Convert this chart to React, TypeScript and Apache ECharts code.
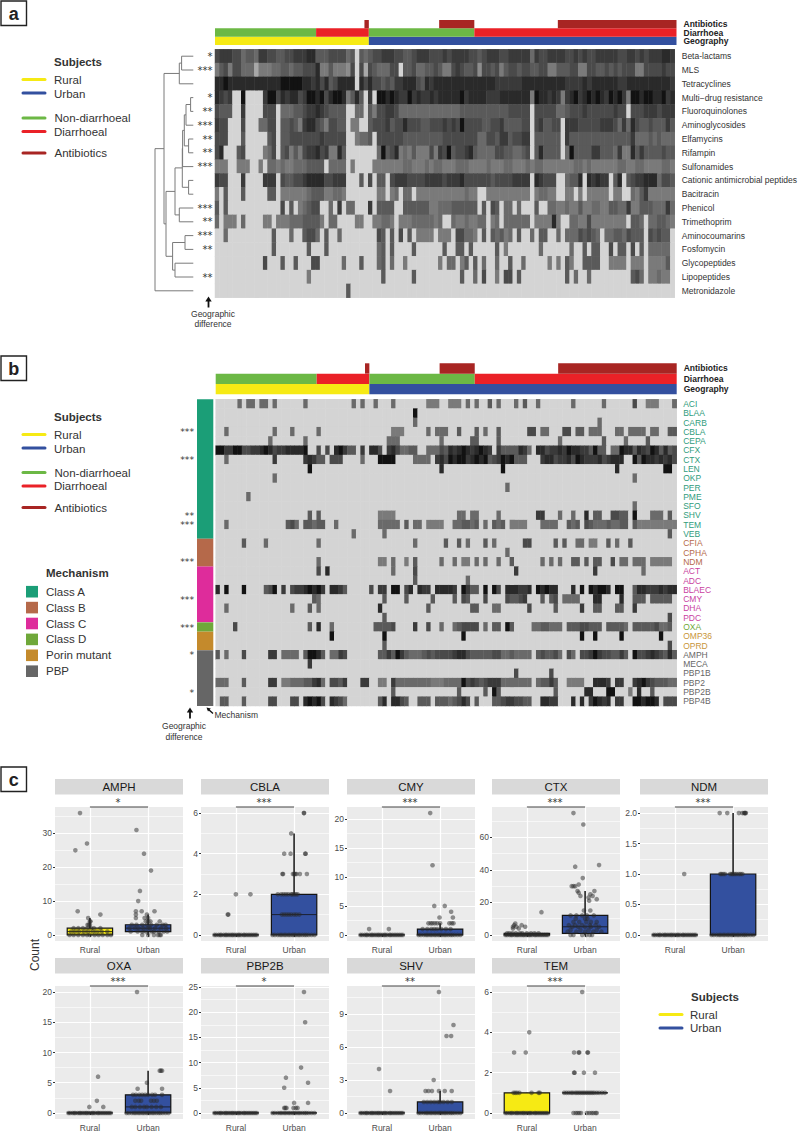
import React, { useEffect, useRef } from "react";
import * as echarts from "echarts";

const FONT = "'Liberation Sans', Arial, sans-serif";
const STAR_FONT = "'DejaVu Sans', sans-serif";
const COLS = 105;
const GREY_SCALE = ["#d4d4d4", "#a8a8a8", "#8c8c8c", "#7a7a7a", "#6a6a6a", "#5a5a5a", "#4a4a4a", "#3a3a3a", "#2a2a2a", "#121212"];
const C_YELLOW = "#f6ea14";
const C_BLUE = "#33509f";
const C_GREEN = "#6cb845";
const C_RED = "#ea2127";
const C_BROWN = "#a82523";

const LABELS_A = ["Beta-lactams", "MLS", "Tetracyclines", "Multi\u2212drug resistance", "Fluoroquinolones", "Aminoglycosides", "Elfamycins", "Rifampin", "Sulfonamides", "Cationic antimicrobial peptides", "Bacitracin", "Phenicol", "Trimethoprim", "Aminocoumarins", "Fosfomycin", "Glycopeptides", "Lipopeptides", "Metronidazole"];
const STARS_A = ["*", "***", "", "*", "**", "***", "**", "**", "***", "", "", "***", "**", "***", "**", "", "**", ""];

const ROWS_A = [
  "6777664554 7766556677 7885556666 4505456677 7665567776 6676777766 5677766777 7747667777 6676766777 7766776767 77887",
  "3563664441 3334455455 6668335333 2606165444 6605564455 6533676556 2665635665 6655663355 5663366556 5656663366 66766",
  "8898888888 8888899999 8878685688 8808686656 5778886587 8888888888 8888777777 8888888888 7777878888 8877888888 88887",
  "8767009000 0799687886 7998968998 3585070998 9877978778 7888889788 8877788888 8839887873 7897898987 9897399899 88978",
  "6555007000 0666044455 6778765555 0044053667 7644444444 4444445555 5555555666 6606666644 5666766666 6766066677 76777",
  "7660006000 4466055653 7886536655 0330056667 5668666556 6676769666 6556675555 6606755660 7776666677 7647486556 55575",
  "6660005000 0056055666 6666766666 0034450666 6665555555 5566666666 4466577566 7705555550 7555555555 5555574445 45444",
  "6800056000 0346056353 6778673385 0000000495 6834353336 3769566785 4444665544 5605855550 4955557755 5473385755 55655",
  "3330033300 3044343344 4555504444 0300003333 3334433343 4433344433 3343334433 3434433333 3344343333 3344334433 33443",
  "7660007000 0777065566 7888866777 0005060550 6777666677 7767778666 6665666677 7708766600 4558087877 0580567788 84665",
  "3050005000 0055033333 3455533443 0000000330 3404403333 3333333433 0033333333 3303443300 3303033333 0330043573 33333",
  "5050000000 0000060503 4566004070 4400070555 5005555553 3444555555 0506504404 0005004433 4335334433 5544733555 44474",
  "4033304000 0330333444 5555304400 0033003344 3033344444 3400433433 4403404444 4403333830 0443363333 3333055404 45543",
  "0040000000 0005000400 5664050040 0000000650 5060503333 0333066443 0505453405 0040550040 4446565404 4554655506 56550",
  "0000000000 0005000000 0500050000 0000000450 5000050000 0050055050 0000503000 0000400000 0400505500 6055060504 44440",
  "0000000000 0600050050 0066000004 0005000450 4003000000 0304403505 0400400500 4000003030 5300555500 3333033303 33350",
  "0000000000 0000000000 0300000000 0000000050 0000050000 0000005004 0600306605 0000000000 5040040000 0000056403 34330",
  "0000000000 0000000000 0000000000 5000000000 0000000000 0000000000 0000000000 0000000000 0000000000 0000000000 00000",
];

// merges of the clustering on panel a: [height, left child, right child]; child >= 0 is a row, child < 0 is merge number -(child + 1)
const DENDRO_MERGES: number[][] = [
  [11.7, 0, 1], [14, -1, 2], [2.7, 3, 4], [7.3, -3, 5], [4.7, 6, 7], [9, -4, -5], [10.7, -6, 8], [4.7, 9, 10], [11, -7, -8],
  [14, 11, 12], [18.3, -9, -10], [8.3, 13, 14], [18.3, 15, 16], [20.7, -12, -13], [27.3, -11, -14], [29.3, -2, -15], [38.3, -16, 17],
];

const LABELS_B = ["ACI", "BLAA", "CARB", "CBLA", "CEPA", "CFX", "CTX", "LEN", "OKP", "PER", "PME", "SFO", "SHV", "TEM", "VEB", "CFIA", "CPHA", "NDM", "ACT", "ADC", "BLAEC", "CMY", "DHA", "PDC", "OXA", "OMP36", "OPRD", "AMPH", "MECA", "PBP1B", "PBP2", "PBP2B", "PBP4B"];
const STARS_B = ["", "", "", "***", "", "", "***", "", "", "", "", "", "**", "***", "", "", "", "***", "", "", "", "***", "", "", "***", "", "", "*", "", "", "", "*", ""];
const MECH_NAMES = ["Class A", "Class B", "Class C", "Class D", "Porin mutant", "PBP"];
const MECH_COLORS = ["#1b9e77", "#b5694a", "#de2c9b", "#6fa83a", "#c48a2c", "#666666"];
const MECH_TEXT = ["#2f9c7c", "#b5694a", "#c93f9f", "#6fa83a", "#c9953a", "#666666"];
const MECH_RUNS = [15, 3, 6, 1, 2, 6];

// "column:levels" runs, level 0 elsewhere
const ROWS_B = [
  "5:4 7:44 10:44 13:4 20:4 31:4 33:4 36:4 40:4 48:333 53:333 57:4 59:4 62:5 64:4 68:4 70:5 73:4 81:4 88:4 95:6 98:333 104:4",
  "45:9",
  "45:4 87:4",
  "2:4 13:4 17:4 23:4 40:333 48:4 50:444 55:5 59:5 61:4 64:5 71:66 74:44 79:66 82:55 85:444 91:44 94:4444 99:44 103:55",
  "12:4 20:4 39:444 51:4 58:55 64:5 78:4 88:5 93:4 98:5",
  "0:997799667789867788889 23:6 25:6 27:897 30:55 33:7 35:886 39:786 42:4455 48:444 51:65 53:8789878 60:987 64:7555587 71:4 73:88 75:6778798877 85:59 87:55 90:44 92:988 95:5 96:87 98:69 100:8 101:5 102:8 103:56",
  "2:4 13:7 20:78755 26:666 33:4 37:9999 45:4444 50:786 53:9899789 60:8 61:956 64:798 67:955 70:5 74:78867786987778 88:678 91:88 95:9 96:5 97:988787 103:86",
  "21:9 51:8 65:9 91:8 102:99",
  "13:4 95:4",
  "66:4",
  "7:4",
  "95:4",
  "21:5 23:5 37:3333 55:44 58:44 64:4 73:77 78:4 81:4 84:8 86:55 90:6655 95:9 99:444 103:5",
  "2:4 16:564 20:55455 27:4 37:44444 43:5 45:44 48:3333 54:445545 61:4 63:545 67:3333 74:4444 80:545 84:6544454455 95:5333333333",
  "31:4 38:4 103:5",
  "6:5 11:4 23:4 45:4 52:5 55:5 57:4 61:5 63:4 70:66 77:5 79:5 82:44 85:33 89:5 91:4 94:5",
  "66:4",
  "23:4 37:33 40:4 43:3 45:5 51:4 54:4 56:33 59:4 61:4 64:4 67:5 74:4 76:4 78:4 81:55 84:5 86:55 90:6 92:44 95:444 99:33333",
  "23:6 25:8 40:4 45:6 68:7 86:7 97:4",
  "45:5 57:4",
  "0:8 2:9 6:9 11:569 15:7 17:67789897 26:8875 35:6 37:77 40:99 43:68 46:877 50:88887 56:9755 61:9 63:96 66:888778 73:98988 81:8 83:9 85:98998 91:99 95:5 96:887778788",
  "22:54 38:5 43:5 49:5 54:5 56:65 61:6 66:65567 74:5 76:56 79:4444 86:88 92:8 95:555 99:55555",
  "2:4 17:4 21:5 23:4 37:8 48:5 58:55 63:44 71:6 77:5 83:7 86:55 91:55 95:7",
  "38:5 103:6",
  "4:6 21:5 23:8 26:4 36:55556 45:7 48:6 51:4 54:456666 61:4 63:55 66:95 72:4455444 80:55566555 89:55554 95:555556445",
  "26:9 38:9 56:9 83:9 86:9 92:9 101:9",
  "38:5 103:6",
  "0:5 2:4 6:6 12:77 15:4444 20:59985 26:4476 37:55759754445656666788655 60:555 63:664454444 73:565564 80:64 83:66797665575 95:9667876585",
  "21:7",
  "68:6 76:6",
  "0:444 6:5 12:77 15:3344455784 26:6657 33:77 37:33 40:74444444433344449676 60:567774444444 73:45575 80:3333 86:8887 91:77 95:7897655544",
  "40:5 55:5 61:5 63:95 77:5 84:88 89:99 94:3 96:8 99:5",
  "1:55 6:5 12:66 17:66 20:89896 26:8764 37:58 40:8865 46:555 50:555456 56:86 59:5 63:556776655 74:8877 81:8 83:8 85:79878 91:77 95:998998 102:666",
];

const TRACK_NAMES = ["Geography", "Diarrhoea", "Antibiotics"];
const GEOGRAPHY_RUNS = [35, 70];
const GEOGRAPHY_COLORS = [C_YELLOW, C_BLUE];
const DIARRHOEA_RUNS = [23, 12, 24, 46];
const DIARRHOEA_COLORS = [C_GREEN, C_RED, C_GREEN, C_RED];
const ANTIBIOTIC_RUNS = [34, 1, 16, 8, 19, 27];
const ANTIBIOTIC_COLORS = ["rgba(0,0,0,0)", C_BROWN, "rgba(0,0,0,0)", C_BROWN, "rgba(0,0,0,0)", C_BROWN];

// Panel c
const ZERO_RURAL = [0.63, 0.66, 0.7, 0.73, 0.75, 0.79, 0.82, 0.84, 0.87, 0.9, 0.93, 0.95, 0.98, 1.01, 1.04, 1.06, 1.09, 1.13, 1.15, 1.18, 1.21, 1.24, 1.27, 1.3, 1.33, 1.36];
const ZERO_URBAN = [1.63, 1.67, 1.72, 1.76, 1.79, 1.83, 1.86, 1.9, 1.93, 1.97, 2.0, 2.03, 2.07, 2.1, 2.14, 2.18, 2.21, 2.25, 2.3, 2.35];

type Pts = [number, number[]][];
const AMPH_PTS: Pts = [[36, [0.83]], [27, [0.95]], [25, [0.75]], [7, [0.79]], [6, [1.18]], [5, [0.97]], [4, [1.01, 1.0]], [3, [0.98, 1.0, 0.96]], [2, [0.72, 0.8, 0.88, 0.95, 1.02, 1.07, 1.18]], [1, [0.68, 0.75, 0.82, 0.9, 0.97, 1.05, 1.12, 1.2, 1.3]], [0, [0.65, 0.72, 0.8, 0.88, 0.95, 1.0, 1.08, 1.15, 1.22, 1.3, 1.36]],
  [31, [1.8]], [24, [1.93]], [19, [2.05]], [13, [1.86]], [10, [1.83]], [7, [1.79, 1.89, 2.11]], [6, [1.79, 1.98]], [5, [1.79, 1.94, 2.0]], [4, [2.04, 2.2, 2.0, 1.96]], [3, [1.72, 1.8, 1.9, 1.98, 2.05, 2.15, 2.25, 2.3]], [2, [1.68, 1.77, 1.84, 1.92, 2.0, 2.03, 2.12, 2.22, 2.31]], [1, [1.7, 1.82, 1.9, 1.96, 2.06, 2.1, 2.18, 2.27, 2.33]], [0, [1.9, 2.0, 2.1, 2.17, 2.2, 2.22]]];
const CBLA_PTS: Pts = [[2, [1.0, 1.25]], [1, [0.86, 0.87]], [0, ZERO_RURAL],
  [6, [2.17, 2.17]], [5, [1.95]], [4, [1.83, 1.94, 2.19, 2.2]], [3, [1.8, 1.81, 1.98, 2.0, 2.02, 2.04, 2.1, 2.22]], [2, [1.72, 1.78, 1.82, 1.86, 1.9, 1.95, 1.97, 2.0, 2.03, 2.06]], [1, [1.79, 1.83, 1.87, 1.91, 1.95, 2.0, 2.04, 2.09]], [0, ZERO_URBAN]];
const CMY_PTS: Pts = [[1, [0.78, 1.12]], [0, ZERO_RURAL],
  [21, [1.83]], [12, [1.87]], [5, [1.9, 2.08]], [4, [2.19]], [3, [1.99, 2.22]], [2, [1.8, 1.84, 1.87, 1.91, 1.95, 2.0, 2.16, 2.2, 2.23]], [1, [1.7, 1.78, 1.85, 1.9, 1.95, 2.02, 2.1, 2.18]], [0, ZERO_URBAN]];
const CTX_PTS: Pts = [[14, [1.25]], [7, [0.8]], [6, [0.78, 0.91]], [5, [0.76, 0.82, 0.97]], [4, [0.76, 0.86]], [1, [0.66, 0.7, 0.75, 0.81, 0.88, 0.92, 1.0, 1.07, 1.13, 1.2]], [0, ZERO_RURAL],
  [75, [1.8]], [68, [1.97]], [43, [2.24]], [42, [1.83]], [35, [1.96]], [31, [1.89]], [30, [1.77, 1.83, 1.8]], [27, [2.16, 1.87]], [26, [1.89]], [25, [2.09]], [24, [2.13, 1.92]], [23, [2.06]], [22, [2.2]], [21, [2.07]], [15, [1.98, 2.09]], [12, [1.75, 1.85, 1.95, 2.03, 2.15]], [10, [1.84, 2.0, 2.04]], [8, [1.8, 1.9, 2.02, 2.1, 2.2]], [6, [1.72, 1.83, 1.95, 2.08, 2.18]], [5, [1.78, 1.88, 2.0, 2.1, 2.24]], [3, [1.75, 1.92, 2.06, 2.2]], [2, [1.7, 1.85, 2.0, 2.14, 2.28]], [0, [1.75, 1.8, 1.95, 2.02, 2.08, 2.12]]];
const NDM_PTS: Pts = [[1, [1.16]], [0, ZERO_RURAL],
  [2, [1.77, 1.9, 2.1, 2.16, 2.19, 2.21, 2.22, 2.2]], [1, [1.78, 1.8, 1.83, 1.86, 1.95, 1.98, 2.0, 2.03, 2.06, 2.1, 2.13, 2.16]], [0, ZERO_URBAN]];
const OXA_PTS: Pts = [[6, [1.14]], [2, [1.12]], [1, [0.99, 1.23]], [0, ZERO_RURAL],
  [20, [1.81]], [7, [2.2, 2.22, 2.24]], [5, [1.98]], [4, [1.82, 2.24]], [3, [1.74, 1.79, 1.85, 1.9, 1.95, 2.0, 2.07, 2.12, 2.24]], [2, [1.78, 1.84, 1.88, 2.05, 2.1, 2.15]], [1, [1.72, 1.78, 1.86, 1.93, 1.98, 2.06, 2.14, 2.22]], [0, ZERO_URBAN]];
const PBP2B_PTS: Pts = [[0, ZERO_RURAL],
  [24, [2.17]], [18, [2.19]], [9, [2.12]], [7, [1.86]], [6, [2.24]], [5, [1.83]], [2, [2.0, 2.24]], [1, [1.83, 1.85, 1.87, 1.99, 2.03, 2.06]], [0, ZERO_URBAN]];
const SHV_PTS: Pts = [[4, [0.95]], [2, [1.14]], [0, ZERO_RURAL],
  [11, [1.98]], [8, [2.23]], [7, [2.11, 2.19]], [3, [1.89]], [2, [1.75, 1.8, 1.86, 1.98, 2.08, 2.2]], [1, [1.72, 1.78, 1.84, 1.9, 1.96, 2.0, 2.06, 2.13, 2.2]], [0, ZERO_URBAN]];
const TEM_PTS: Pts = [[4, [1.04]], [3, [0.78, 0.98]], [1, [0.77, 0.8, 0.83, 0.87, 1.08, 1.2, 1.22]], [0, ZERO_RURAL],
  [6, [1.95]], [3, [1.81, 1.89, 1.9, 2.04, 2.05]], [2, [1.81, 1.82, 1.98, 2.17]], [1, [1.64, 1.68, 1.72, 1.76, 1.79, 1.83, 1.86, 1.89, 1.92, 1.95, 1.98, 2.01, 2.04, 2.07, 2.1, 2.13, 2.16, 2.2, 2.24, 2.29, 2.34]], [0, [1.8, 1.84, 1.87, 1.9, 1.93, 2.03, 2.07, 2.11, 2.14, 2.18, 2.2]]];

const PANEL_NAMES = ["AMPH", "CBLA", "CMY", "CTX", "NDM", "OXA", "PBP2B", "SHV", "TEM"];
const PANEL_STARS = ["*", "***", "***", "***", "***", "***", "*", "**", "***"];
const PANEL_MAX = [36, 6, 21, 75, 2, 20, 24, 11, 6];
const PANEL_TICKS = [[0, 10, 20, 30], [0, 2, 4, 6], [0, 5, 10, 15, 20], [0, 20, 40, 60], [0, 0.5, 1, 1.5, 2], [0, 5, 10, 15, 20], [0, 5, 10, 15, 20, 25], [0, 3, 6, 9], [0, 2, 4, 6]];
const PANEL_MINOR = [[5, 15, 25, 35], [1, 3, 5], [2.5, 7.5, 12.5, 17.5], [10, 30, 50, 70], [0.25, 0.75, 1.25, 1.75], [2.5, 7.5, 12.5, 17.5], [2.5, 7.5, 12.5, 17.5, 22.5], [1.5, 4.5, 7.5, 10.5], [1, 3, 5]];
const PANEL_POINTS = [AMPH_PTS, CBLA_PTS, CMY_PTS, CTX_PTS, NDM_PTS, OXA_PTS, PBP2B_PTS, SHV_PTS, TEM_PTS];
// whisker low, Q1, median, Q3, whisker high: rural then urban
const RURAL_BOX = [[0, 0, 1, 2, 5], [0, 0, 0, 0, 0], [0, 0, 0, 0, 0], [0, 0, 0, 1, 1], [0, 0, 0, 0, 0], [0, 0, 0, 0, 0], [0, 0, 0, 0, 0], [0, 0, 0, 0, 0], [0, 0, 0, 1, 1]];
const URBAN_BOX = [[0, 1, 2, 3, 6], [0, 0, 1, 2, 5], [0, 0, 0, 1, 2], [0, 1, 5, 12, 27], [0, 0, 0, 1, 2], [0, 0, 1, 3, 7], [0, 0, 0, 0, 0], [0, 0, 0, 1, 2], [1, 1, 1, 1, 1]];
const PANEL_LEFT = [55, 201, 347, 492, 640, 55, 201, 347, 492];
const PANEL_TOPS = [807, 986];
const PANEL_HEIGHTS = [134, 133];
const STRIP_TOPS = [779, 958];

function denseRows(rows: string[]) {
  const out: number[][] = [];
  rows.forEach((row, r) => {
    const s = row.replace(/\s/g, "");
    for (let c = 0; c < COLS; c++) out.push([c, r, Number(s[c] ?? "0")]);
  });
  return out;
}
function sparseRows(rows: string[]) {
  const out: number[][] = [];
  rows.forEach((row, r) => {
    const cells = new Array(COLS).fill(0);
    row.split(" ").forEach((run) => {
      const [start, digits] = run.split(":");
      [...digits].forEach((d, i) => {
        const c = Number(start) + i;
        if (c < COLS) cells[c] = Number(d);
      });
    });
    cells.forEach((v, c) => out.push([c, r, v]));
  });
  return out;
}
function dendroSegments() {
  const nodes: { h: number; y: number }[] = [];
  const segs: number[][] = [];
  const get = (c: number) => (c >= 0 ? { h: 0, y: c + 0.5 } : nodes[-c - 1]);
  DENDRO_MERGES.forEach(([h, a, b]) => {
    const A = get(a);
    const B = get(b);
    segs.push([A.h, A.y, h, A.y, h, B.y, B.h, B.y]);
    nodes.push({ h, y: (A.y + B.y) / 2 });
  });
  return segs;
}

function buildOption() {
  const grid: any[] = [];
  const xAxis: any[] = [];
  const yAxis: any[] = [];
  const series: any[] = [];
  const graphic: any[] = [];
  const colIdx = Array.from({ length: COLS }, (_, i) => String(i));
  const hidden = { axisLine: { show: false }, axisTick: { show: false }, axisLabel: { show: false }, splitLine: { show: false } };

  const addGrid = (g: any) => { grid.push({ ...g, containLabel: false }); return grid.length - 1; };
  const addX = (a: any) => { xAxis.push(a); return xAxis.length - 1; };
  const addY = (a: any) => { yAxis.push(a); return yAxis.length - 1; };

  const heatmap = (left: number, top: number, width: number, height: number, labels: string[], stars: string[], data: number[][], starMargin: number, labelMargin: number, color: any, starSize: number) => {
    const gi = addGrid({ left, top, width, height });
    const xi = addX({ type: "category", gridIndex: gi, data: colIdx, ...hidden });
    const yi = addY({
      type: "category", gridIndex: gi, data: labels, inverse: true, position: "right", axisLine: { show: false }, axisTick: { show: false }, splitLine: { show: false },
      axisLabel: { show: true, interval: 0, margin: labelMargin, fontSize: 8.5, fontFamily: FONT, color },
    });
    addY({
      type: "category", gridIndex: gi, data: stars.map((s, i) => s || " ".repeat(i + 1)), inverse: true, position: "left", axisLine: { show: false }, axisTick: { show: false }, splitLine: { show: false },
      axisLabel: { show: true, interval: 0, margin: starMargin, fontSize: starSize, fontFamily: STAR_FONT, color: "#333", verticalAlign: "middle", padding: [3, 0, 0, 0], formatter: (v: string) => v.trim() },
    });
    series.push({ type: "heatmap", xAxisIndex: xi, yAxisIndex: yi, data, silent: true, progressive: 0, animation: false, emphasis: { disabled: true } });
  };

  // heatmaps first: the visual map points at these two series
  heatmap(215, 49.3, 461.5, 248.4, LABELS_A, STARS_A, denseRows(ROWS_A), 2.5, 7, "#333", 10);
  heatmap(215.7, 399.3, 461, 306.7, LABELS_B, STARS_B, sparseRows(ROWS_B), 21.7, 6.5, (_v: string, i: number) => {
    let acc = 0;
    for (let m = 0; m < MECH_RUNS.length; m++) { acc += MECH_RUNS[m]; if (i < acc) return MECH_TEXT[m]; }
    return "#666";
  }, 9.2);

  // Dendrogram
  {
    const gi = addGrid({ left: 155, top: 49.3, width: 38.3, height: 248.4 });
    const xi = addX({ type: "value", gridIndex: gi, min: 0, max: 38.3, inverse: true, show: false });
    const yi = addY({ type: "value", gridIndex: gi, min: 0, max: 18, inverse: true, show: false });
    series.push({
      type: "custom", xAxisIndex: xi, yAxisIndex: yi, data: dendroSegments(), silent: true, encode: { x: [0, 2, 4, 6], y: [1, 3, 5, 7] },
      renderItem: (_p: any, api: any) => {
        const points = [0, 2, 4, 6].map((k) => api.coord([api.value(k), api.value(k + 1)]));
        return { type: "polyline", shape: { points }, style: { stroke: "#7a7a7a", lineWidth: 1, fill: "none" } };
      },
    });
  }

  // Annotation tracks
  const track = (left: number, top: number, width: number, height: number) => {
    const gi = addGrid({ left, top, width, height });
    const xi = addX({ type: "value", gridIndex: gi, min: 0, max: COLS, show: false });
    const yi = addY({
      type: "category", gridIndex: gi, data: TRACK_NAMES, position: "right", axisLine: { show: false }, axisTick: { show: false }, splitLine: { show: false },
      axisLabel: { show: true, interval: 0, margin: 7, fontSize: 8.5, fontWeight: "bold", fontFamily: FONT, color: "#222" },
    });
    [[GEOGRAPHY_RUNS, GEOGRAPHY_COLORS], [DIARRHOEA_RUNS, DIARRHOEA_COLORS], [ANTIBIOTIC_RUNS, ANTIBIOTIC_COLORS]].forEach(([runs, cols]: any, row) => {
      runs.forEach((v: number, k: number) => {
        const data = [0, 0, 0];
        data[row] = v;
        series.push({ type: "bar", xAxisIndex: xi, yAxisIndex: yi, stack: "track" + gi + "r" + row, data, barWidth: "100%", barGap: "-100%", silent: true, itemStyle: { color: cols[k] } });
      });
    });
  };
  track(215, 20, 461.5, 25);
  track(215.7, 363.3, 461, 31);

  // Mechanism strip
  {
    const gi = addGrid({ left: 197, top: 399.3, width: 16.3, height: 306.7 });
    const xi = addX({ type: "category", gridIndex: gi, data: ["Mechanism"], show: false });
    const yi = addY({ type: "value", gridIndex: gi, min: 0, max: 33, inverse: true, show: false });
    MECH_RUNS.forEach((v, k) => series.push({ type: "bar", xAxisIndex: xi, yAxisIndex: yi, stack: "mech", data: [v], barWidth: "100%", silent: true, itemStyle: { color: MECH_COLORS[k] } }));
  }

  // Box panels
  PANEL_NAMES.forEach((name, i) => {
    const row = i < 5 ? 0 : 1;
    const left = PANEL_LEFT[i];
    const top = PANEL_TOPS[row];
    const height = PANEL_HEIGHTS[row];
    const width = 128;
    const M = PANEL_MAX[i];
    const gi = addGrid({ left, top, width, height, show: true, backgroundColor: "#ebebeb", borderWidth: 0 });
    const xi = addX({
      type: "value", gridIndex: gi, min: 0.4, max: 2.6,
      axisLine: { show: false }, axisTick: { show: true, length: 2, lineStyle: { color: "#333", width: 1 }, customValues: [1, 2] },
      axisLabel: { show: true, customValues: [1, 2], margin: 4, fontSize: 8.5, fontFamily: FONT, color: "#4d4d4d", formatter: (v: number) => (v === 1 ? "Rural" : "Urban") },
      splitLine: { show: true, lineStyle: { color: "#fff", width: 1.2 } },
    });
    const dec = name === "NDM" ? 1 : 0;
    const yi = addY({
      type: "value", gridIndex: gi, min: -0.05 * M, max: 1.05 * M,
      axisLine: { show: false }, axisTick: { show: true, length: 2, lineStyle: { color: "#333", width: 1 }, customValues: PANEL_TICKS[i] },
      axisLabel: { show: true, customValues: PANEL_TICKS[i], margin: 3, fontSize: 8.5, fontFamily: FONT, color: "#4d4d4d", formatter: (v: number) => v.toFixed(dec) },
      splitLine: { show: true, lineStyle: { color: "#fff", width: 1.2 } },
    });
    // significance bracket + minor grid lines
    series.push({
      type: "line", xAxisIndex: xi, yAxisIndex: yi, data: [[1, 1.05 * M], [2, 1.05 * M]], symbol: "none", clip: false, silent: true, z: 2,
      lineStyle: { color: "#444", width: 1.1 },
      markLine: { silent: true, symbol: "none", z: 1, animation: false, label: { show: false }, lineStyle: { color: "#fff", width: 0.6, type: "solid" }, data: PANEL_MINOR[i].map((v) => ({ yAxis: v })) },
    });
    // boxes
    series.push({
      type: "custom", xAxisIndex: xi, yAxisIndex: yi, silent: true, z: 3, clip: false,
      data: [[1, ...RURAL_BOX[i]], [2, ...URBAN_BOX[i]]], encode: { x: 0, y: [1, 2, 3, 4, 5] },
      renderItem: (_p: any, api: any) => {
        const x = api.value(0);
        const lo = api.coord([x, api.value(1)]);
        const q1 = api.coord([x - 0.39, api.value(2)]);
        const md = api.coord([x - 0.39, api.value(3)]);
        const mdR = api.coord([x + 0.39, api.value(3)]);
        const q3 = api.coord([x + 0.39, api.value(4)]);
        const hi = api.coord([x, api.value(5)]);
        const stroke = "#141414";
        return {
          type: "group",
          children: [
            { type: "line", shape: { x1: lo[0], y1: lo[1], x2: hi[0], y2: hi[1] }, style: { stroke, lineWidth: 1.5 } },
            { type: "rect", shape: { x: q1[0], y: q3[1], width: q3[0] - q1[0], height: q1[1] - q3[1] }, style: { fill: x === 1 ? C_YELLOW : C_BLUE, stroke, lineWidth: 1.2 } },
            { type: "line", shape: { x1: md[0], y1: md[1], x2: mdR[0], y2: mdR[1] }, style: { stroke, lineWidth: 0.8 } },
          ],
        };
      },
    });
    // jittered observations
    const pts: number[][] = [];
    PANEL_POINTS[i].forEach(([y, xs]) => xs.forEach((x) => pts.push([x, y])));
    series.push({ type: "scatter", xAxisIndex: xi, yAxisIndex: yi, data: pts, symbolSize: 4.6, silent: true, z: 4, progressive: 0, itemStyle: { color: "#2a2a2a", opacity: 0.5 } });

    // strip + stars
    graphic.push({ type: "rect", shape: { x: left, y: STRIP_TOPS[row], width, height: 15.5 }, style: { fill: "#d9d9d9" } });
    graphic.push({ type: "text", x: left + width / 2, y: STRIP_TOPS[row] + 8, style: { text: name, fill: "#1a1a1a", fontSize: 11.5, fontFamily: FONT, align: "center", verticalAlign: "middle" } });
    graphic.push({ type: "text", x: left + 63, y: top - 5, style: { text: PANEL_STARS[i], fill: "#333", fontSize: 10, fontFamily: STAR_FONT, align: "center", verticalAlign: "middle" } });
  });

  // Legends and annotations
  const txt = (text: string, x: number, y: number, o: any = {}) => graphic.push({ type: "text", x, y, style: { text, fill: "#333", fontSize: 11.5, fontFamily: FONT, align: "left", verticalAlign: "middle", ...o } });
  const seg = (x1: number, x2: number, y: number, stroke: string) => graphic.push({ type: "line", shape: { x1, y1: y, x2, y2: y }, style: { stroke, lineWidth: 3, lineCap: "round" } });
  const tag = (t: string, y: number) => {
    graphic.push({ type: "rect", shape: { x: 1, y, width: 25.5, height: 24.5 }, style: { fill: "#fff", stroke: "#222", lineWidth: 1.4 } });
    graphic.push({ type: "text", x: 13.8, y: y + 12.5, style: { text: t, fill: "#222", fontSize: 18, fontWeight: "bold", fontFamily: FONT, align: "center", verticalAlign: "middle" } });
  };
  tag("a", 1);
  tag("b", 356);
  tag("c", 767);
  const subjects = (dy: number, nonDy: number, dDy: number, aDy: number) => {
    txt("Subjects", 54, 61.5 + dy, { fontWeight: "bold" });
    txt("Rural", 54, 80 + dy);
    seg(23, 45, 79.5 + dy, C_YELLOW);
    txt("Urban", 54, 93.5 + dy);
    seg(23, 45, 93 + dy, C_BLUE);
    txt("Non-diarrhoeal", 54.5, nonDy);
    seg(23, 45, nonDy, C_GREEN);
    txt("Diarrhoeal", 54, dDy);
    seg(23, 45, dDy, C_RED);
    txt("Antibiotics", 54.5, aDy);
    seg(23, 45, aDy, C_BROWN);
  };
  subjects(0, 118, 131.5, 153);
  subjects(355, 472.5, 486, 507.5);
  txt("Mechanism", 46, 573, { fontWeight: "bold" });
  MECH_NAMES.forEach((m, i) => {
    const y = 591.7 + i * 15.9;
    graphic.push({ type: "rect", shape: { x: 26, y: y - 5.8, width: 12, height: 11.6 }, style: { fill: MECH_COLORS[i] } });
    txt(m, 46, y);
  });
  txt("Subjects", 691, 996.5, { fontWeight: "bold" });
  txt("Rural", 690, 1014.5);
  seg(660, 682, 1014.5, C_YELLOW);
  txt("Urban", 690, 1028);
  seg(660, 682, 1028, C_BLUE);
  graphic.push({ type: "text", x: 35, y: 955, rotation: Math.PI / 2, style: { text: "Count", fill: "#333", fontSize: 12, fontFamily: FONT, align: "center", verticalAlign: "middle" } });

  const upArrow = (x: number, y0: number, y1: number) => {
    graphic.push({ type: "line", shape: { x1: x, y1: y0 + 3, x2: x, y2: y1 }, style: { stroke: "#111", lineWidth: 1.8 } });
    graphic.push({ type: "polygon", shape: { points: [[x, y0], [x - 3.2, y0 + 5], [x + 3.2, y0 + 5]] }, style: { fill: "#111" } });
  };
  upArrow(208.5, 296.5, 307.5);
  txt("Geographic", 213, 313.5, { fontSize: 8.5, align: "center" });
  txt("difference", 213, 324, { fontSize: 8.5, align: "center" });
  upArrow(190, 707.5, 718.5);
  txt("Geographic", 184, 726, { fontSize: 8.5, align: "center" });
  txt("difference", 184, 737, { fontSize: 8.5, align: "center" });
  graphic.push({ type: "line", shape: { x1: 208, y1: 709, x2: 213, y2: 713.5 }, style: { stroke: "#111", lineWidth: 1.4 } });
  graphic.push({ type: "polygon", shape: { points: [[206.5, 707.5], [210.8, 708.6], [208, 711.6]] }, style: { fill: "#111" } });
  txt("Mechanism", 214.5, 715, { fontSize: 8.5 });

  return {
    animation: false,
    backgroundColor: "#ffffff",
    textStyle: { fontFamily: FONT },
    tooltip: { show: false },
    visualMap: [{ type: "continuous", show: false, min: 0, max: 9, seriesIndex: [0, 1], dimension: 2, inRange: { color: GREY_SCALE } }],
    grid, xAxis, yAxis, series, graphic,
  };
}

export default function App() {
  const ref = useRef<HTMLDivElement>(null);
  useEffect(() => {
    const chart = echarts.init(ref.current!, undefined, { renderer: "svg" });
    chart.setOption(buildOption() as any);
    return () => chart.dispose();
  }, []);
  return <div ref={ref} style={{ position: "absolute", left: 0, top: 0, width: 800, height: 1133, background: "#fff" }} />;
}
